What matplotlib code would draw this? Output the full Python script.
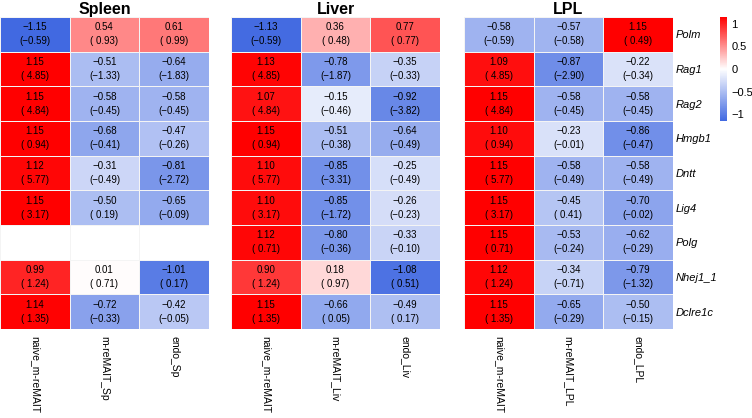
import numpy as np
import matplotlib.pyplot as plt
from matplotlib.colors import LinearSegmentedColormap, Normalize

plt.rcParams['font.family'] = ['Liberation Sans', 'DejaVu Sans']

genes = ['Polm', 'Rag1', 'Rag2', 'Hmgb1', 'Dntt', 'Lig4', 'Polg', 'Nhej1_1', 'Dclre1c']

# valores escalados (arriba) y valores entre parentesis (abajo)
spleen_cols = ['naive_m-reMAIT', 'm-reMAIT_Sp', 'endo_Sp']
spleen_top = [[-1.15, 0.54, 0.61], [1.15, -0.51, -0.64], [1.15, -0.58, -0.58],
              [1.15, -0.68, -0.47], [1.12, -0.31, -0.81], [1.15, -0.50, -0.65],
              [np.nan, np.nan, np.nan], [0.99, 0.01, -1.01], [1.14, -0.72, -0.42]]
spleen_bot = [[-0.59, 0.93, 0.99], [4.85, -1.33, -1.83], [4.84, -0.45, -0.45],
              [0.94, -0.41, -0.26], [5.77, -0.49, -2.72], [3.17, 0.19, -0.09],
              [np.nan, np.nan, np.nan], [1.24, 0.71, 0.17], [1.35, -0.33, -0.05]]

liver_cols = ['naive_m-reMAIT', 'm-reMAIT_Liv', 'endo_Liv']
liver_top = [[-1.13, 0.36, 0.77], [1.13, -0.78, -0.35], [1.07, -0.15, -0.92],
             [1.15, -0.51, -0.64], [1.10, -0.85, -0.25], [1.10, -0.85, -0.26],
             [1.12, -0.80, -0.33], [0.90, 0.18, -1.08], [1.15, -0.66, -0.49]]
liver_bot = [[-0.59, 0.48, 0.77], [4.85, -1.87, -0.33], [4.84, -0.46, -3.82],
             [0.94, -0.38, -0.49], [5.77, -3.31, -0.49], [3.17, -1.72, -0.23],
             [0.71, -0.36, -0.10], [1.24, 0.97, 0.51], [1.35, 0.05, 0.17]]

lpl_cols = ['naive_m-reMAIT', 'm-reMAIT_LPL', 'endo_LPL']
lpl_top = [[-0.58, -0.57, 1.15], [1.09, -0.87, -0.22], [1.15, -0.58, -0.58],
           [1.10, -0.23, -0.86], [1.15, -0.58, -0.58], [1.15, -0.45, -0.70],
           [1.15, -0.53, -0.62], [1.12, -0.34, -0.79], [1.15, -0.65, -0.50]]
lpl_bot = [[-0.59, -0.58, 0.49], [4.85, -2.90, -0.34], [4.84, -0.45, -0.45],
           [0.94, -0.01, -0.47], [5.77, -0.49, -0.49], [3.17, 0.41, -0.02],
           [0.71, -0.24, -0.29], [1.24, -0.71, -1.32], [1.35, -0.29, -0.15]]

paneles = [('Spleen', spleen_cols, spleen_top, spleen_bot, 0),
           ('Liver', liver_cols, liver_top, liver_bot, 231),
           ('LPL', lpl_cols, lpl_top, lpl_bot, 464)]

cmap = LinearSegmentedColormap.from_list('br', ['#4169E1', '#FFFFFF', '#FF0000'])
norm = Normalize(vmin=-1.155, vmax=1.155)

W, H = 752, 418
fig = plt.figure(figsize=(W / 100, H / 100), dpi=100)

def fmt(v, paren=False):
    s = '%.2f' % v
    s = s.replace('-', '\u2212')
    if paren:
        if v >= 0:
            s = ' ' + s
        return '(' + s + ')'
    return s

for i, (titulo, cols, top, bot, x0) in enumerate(paneles):
    ax = fig.add_axes([x0 / W, 89 / H, 209 / W, 312 / H])
    top = np.array(top)
    bot = np.array(bot)
    m = np.ma.masked_invalid(top)
    mesh = ax.pcolormesh(m, cmap=cmap, norm=norm, edgecolors='#f4f4f4', linewidth=0.4)
    ax.set_xlim(0, 3)
    ax.set_ylim(9, 0)
    for r in range(9):
        for c in range(3):
            if np.isnan(top[r, c]):
                continue
            ax.text(c + 0.5, r + 0.5, fmt(top[r, c]) + '\n' + fmt(bot[r, c], True),
                    ha='center', va='center', fontsize=7, linespacing=1.5)
    for s in ax.spines.values():
        s.set_visible(False)
    ax.set_xticks(np.arange(3) + 0.5)
    ax.set_xticklabels(cols, rotation=270, fontsize=7.5)
    ax.tick_params(axis='x', length=0, pad=5)
    if i == 2:
        ax.yaxis.tick_right()
        ax.set_yticks(np.arange(9) + 0.5)
        ax.set_yticklabels(genes, fontsize=8, style='italic')
        ax.tick_params(axis='y', length=0, pad=2)
    else:
        ax.set_yticks([])
    ax.set_title(titulo, fontsize=11.5, fontweight='bold', pad=2)

cax = fig.add_axes([720 / W, (H - 121) / H, 7 / W, 104 / H])
cb = fig.colorbar(mesh, cax=cax, ticks=[-1, -0.5, 0, 0.5, 1])
cb.outline.set_visible(False)
cb.ax.set_yticklabels(['\u22121', '\u22120.5', '0', '0.5', '1'])
cb.ax.tick_params(length=0, labelsize=8, pad=3)

plt.savefig('out.png', dpi=100)
